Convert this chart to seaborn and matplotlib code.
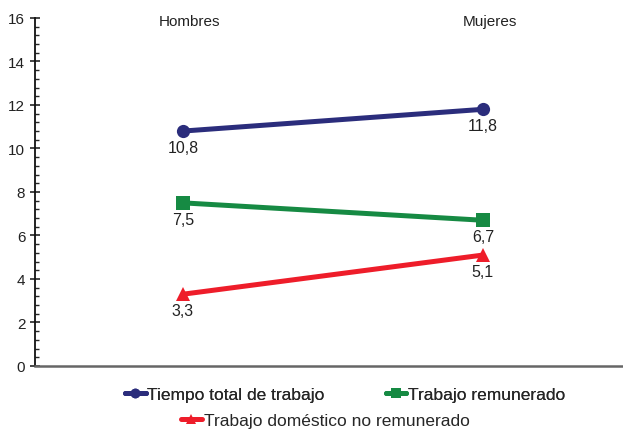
import pandas as pd
import matplotlib.pyplot as plt
import seaborn as sns
from matplotlib.ticker import MultipleLocator, AutoMinorLocator
from matplotlib.lines import Line2D

# datos
grupos = ['Hombres', 'Mujeres']
series = ['Tiempo total de trabajo', 'Trabajo remunerado', 'Trabajo doméstico no remunerado']
tiempo_total = [10.8, 11.8]
trabajo_remunerado = [7.5, 6.7]
trabajo_domestico = [3.3, 5.1]

colores = {'Tiempo total de trabajo': '#2b2d7c',
           'Trabajo remunerado': '#168a43',
           'Trabajo doméstico no remunerado': '#ee1d2a'}
marcadores = {'Tiempo total de trabajo': 'o',
              'Trabajo remunerado': 's',
              'Trabajo doméstico no remunerado': '^'}

rows = []
for s, vals in zip(series, [tiempo_total, trabajo_remunerado, trabajo_domestico]):
    for i, (g, v) in enumerate(zip(grupos, vals)):
        rows.append({'serie': s, 'grupo': g, 'pos': i, 'valor': v})
df = pd.DataFrame(rows)

sns.set_style('white')
plt.rcParams['font.family'] = ['Liberation Sans', 'DejaVu Sans']

fig = plt.figure(figsize=(6.23, 4.31), dpi=100)
ax = fig.add_axes([0.0562, 0.1485, 0.9418, 0.8075])

sns.lineplot(data=df, x='pos', y='valor', hue='serie', style='serie',
             palette=colores, markers=marcadores, dashes=False,
             linewidth=3.6, markersize=9.5, markeredgewidth=0, ax=ax, legend=False)

for _, r in df.iterrows():
    ax.annotate(f"{r['valor']:.1f}".replace('.', ','), (r['pos'], r['valor']),
                xytext=(0, -6.5), textcoords='offset points', ha='center', va='top',
                fontsize=11.5, color='#222222')

# nombres de grupo arriba, un poco a la derecha del punto
for i, g in enumerate(grupos):
    ax.annotate(g, (i, 15.85), xytext=(5, 0), textcoords='offset points',
                ha='center', va='center', fontsize=11, color='#222222')

ax.set_xlim(-0.493, 1.463)
ax.set_ylim(0, 16)
ax.yaxis.set_major_locator(MultipleLocator(2))
ax.yaxis.set_minor_locator(AutoMinorLocator(5))
ax.tick_params(axis='y', which='major', direction='inout', length=7, width=1.2,
               labelsize=11, labelcolor='#222222', left=True)
ax.tick_params(axis='y', which='minor', direction='in', length=3, width=1, left=True)
ax.set_xticks([])
ax.set_xlabel('')
ax.set_ylabel('')
for sp in ['top', 'right']:
    ax.spines[sp].set_visible(False)
ax.spines['left'].set_color('#111111')
ax.spines['left'].set_linewidth(1.3)
ax.spines['bottom'].set_color('#666666')
ax.spines['bottom'].set_linewidth(1.8)

def handle(s):
    return Line2D([], [], color=colores[s], marker=marcadores[s], lw=3.6,
                  markersize=7, markeredgewidth=0)

leg1 = fig.legend([handle(s) for s in series[:2]], series[:2], ncol=2,
                  loc='center', bbox_to_anchor=(0.554, 0.0835), frameon=False,
                  fontsize=12.5, handlelength=1.2, handletextpad=0.1, columnspacing=3.5,
                  borderpad=0, borderaxespad=0)
leg2 = fig.legend([handle(series[2])], [series[2]], loc='center',
                  bbox_to_anchor=(0.522, 0.023), frameon=False, fontsize=12.5,
                  handlelength=1.2, handletextpad=0.1, borderpad=0, borderaxespad=0)
fig.add_artist(leg1)

fig.savefig('out.png', dpi=100)
